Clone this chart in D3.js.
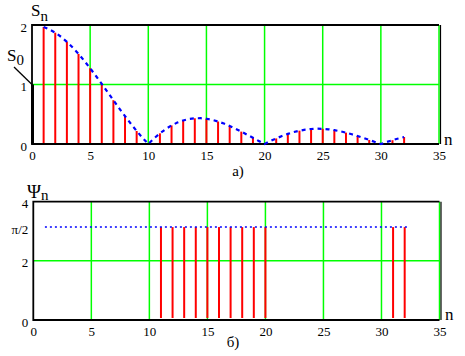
<!DOCTYPE html>
<html><head><meta charset="utf-8">
<script src="https://cdn.jsdelivr.net/npm/d3@7"></script>
<style>
body{margin:0;background:#fff;}
svg{display:block;}
</style></head>
<body><svg id="c" width="465" height="356"></svg>
<script>
// ---- data ----
const xTicks = [0,5,10,15,20,25,30,35];
const sTicks = [0,1,2];
const s0Value = 1;
const stemN = [1,2,3,4,5,6,7,8,9,10,11,12,13,14,15,16,17,18,19,20,21,22,23,24,25,26,27,28,29,30,31,32];
const stemS = [1.967,1.871,1.717,1.514,1.273,1.009,0.736,0.468,0.219,0,0.179,0.312,0.396,0.432,0.424,0.378,0.303,0.208,0.104,0,0.094,0.170,0.224,0.252,0.255,0.233,0.191,0.134,0.068,0,0.064,0.117];
const curveN = [1,1.5,2,2.5,3,3.5,4,4.5,5,5.5,6,6.5,7,7.5,8,8.5,9,9.5,10,10.5,11,11.5,12,12.5,13,13.5,14,14.5,15,15.5,16,16.5,17,17.5,18,18.5,19,19.5,20,20.5,21,21.5,22,22.5,23,23.5,24,24.5,25,25.5,26,26.5,27,27.5,28,28.5,29,29.5,30,30.5,31,31.5,32];
const curveS = [1.967,1.927,1.871,1.801,1.717,1.621,1.514,1.397,1.273,1.143,1.009,0.873,0.736,0.600,0.468,0.340,0.219,0.105,0,0.095,0.179,0.251,0.312,0.360,0.396,0.420,0.432,0.434,0.424,0.406,0.378,0.344,0.303,0.257,0.208,0.156,0.104,0.051,0,0.049,0.094,0.134,0.170,0.200,0.224,0.241,0.252,0.257,0.255,0.247,0.233,0.214,0.191,0.164,0.134,0.101,0.068,0.034,0,0.033,0.064,0.092,0.117];
const psiTicks = [0,2,Math.PI,4];
const psiTickLabels = ["0","2","π/2","4"];
const psiN = [11,12,13,14,15,16,17,18,19,20,31,32];
const psiValues = [Math.PI,Math.PI,Math.PI,Math.PI,Math.PI,Math.PI,Math.PI,Math.PI,Math.PI,Math.PI,Math.PI,Math.PI];
const psiLineN = [1,32.2];
const psiLineV = [Math.PI,Math.PI];

const FONT = "'Liberation Serif'";
const svg = d3.select("#c");
const GREEN = "#00ff00", RED = "#ff0000", BLUE = "#0000ff";

function label(g, x, y, size, main, sub, subSize, subDy, anchor) {
  const t = g.append("text").attr("x",x).attr("y",y).style("font-family",FONT)
    .style("font-size",size+"px").attr("fill","#000").attr("text-anchor",anchor||"start").text(main);
  if (sub) t.append("tspan").attr("dy",subDy).style("font-size",subSize+"px").style("font-family",FONT).text(sub);
  return t;
}

function panel(g, x, y, yTicks, yLabels, gridY) {
  const [x0,x1] = x.range(), [yb,yt] = y.range();
  g.selectAll(".gx").data(xTicks.filter(d=>d>0)).join("line")
    .attr("x1",d=>x(d)).attr("x2",d=>x(d)).attr("y1",yb).attr("y2",yt)
    .attr("stroke",GREEN).attr("stroke-width",1.5);
  g.selectAll(".gy").data(gridY).join("line")
    .attr("x1",x0).attr("x2",x1).attr("y1",d=>y(d)).attr("y2",d=>y(d))
    .attr("stroke",GREEN).attr("stroke-width",1.5);
  g.append("path").attr("d",`M${x1},${yt}H${x0}V${yb}H${x1}`)
    .attr("fill","none").attr("stroke","#000").attr("stroke-width",1.8);
  g.append("line").attr("x1",x1+1.5).attr("x2",x1+1.5).attr("y1",yt).attr("y2",yb)
    .attr("stroke","#000").attr("stroke-width",1.2);
  const ax = d3.axisBottom(x).tickValues(xTicks).tickSize(0).tickPadding(0);
  const ga = g.append("g").attr("transform",`translate(0,${yb})`).call(ax);
  ga.select(".domain").remove();
  ga.selectAll("text").attr("dy",null).attr("y",15.5).attr("fill","#000")
    .style("font-size","13px").style("font-family",FONT);
  const ay = d3.axisLeft(y).tickValues(yTicks).tickFormat((d,i)=>yLabels[i]).tickSize(0).tickPadding(0);
  const gy = g.append("g").attr("transform",`translate(${x0-5},0)`).call(ay);
  gy.select(".domain").remove();
  gy.selectAll("text").attr("dy",null).attr("y",6).attr("fill","#000")
    .style("font-size","13px").style("font-family",FONT);
}

// ---- panel a ----
const xa = d3.scaleLinear().domain([0,35]).range([32,439]);
const ya = d3.scaleLinear().domain([0,2]).range([144,25]);
const ga = svg.append("g");
panel(ga, xa, ya, sTicks, sTicks.map(String), [1]);
ga.selectAll(".stem").data(stemN.map((n,i)=>({n,v:stemS[i]})).filter(d=>d.v>0)).join("line")
  .attr("x1",d=>xa(d.n)).attr("x2",d=>xa(d.n)).attr("y1",ya(0)-1).attr("y2",d=>ya(d.v))
  .attr("stroke",RED).attr("stroke-width",2);
ga.append("line").attr("x1",xa(0)+0.5).attr("x2",xa(0)+0.5).attr("y1",ya(0)).attr("y2",ya(s0Value))
  .attr("stroke","#000").attr("stroke-width",3);
ga.append("path").datum(curveN.map((n,i)=>[n,curveS[i]]))
  .attr("d",d3.line().x(d=>xa(d[0])).y(d=>ya(d[1])))
  .attr("fill","none").attr("stroke",BLUE).attr("stroke-width",2.2).attr("stroke-dasharray","4,4");
label(ga, 31, 16, 17, "S", "n", 15, 5);
label(ga, 7, 61, 17, "S", "0", 15, 4);
ga.append("line").attr("x1",14).attr("y1",67).attr("x2",xa(0)).attr("y2",ya(s0Value))
  .attr("stroke","#000").attr("stroke-width",1.3);
label(ga, 444, 145, 17, "n");
label(ga, 238, 176, 15, "a)", null, 0, 0, "middle");

// ---- panel b ----
const xb = d3.scaleLinear().domain([0,35]).range([33.3,439.5]);
const yb = d3.scaleLinear().domain([0,4]).range([320,201.7]);
const gb = svg.append("g");
panel(gb, xb, yb, psiTicks, psiTickLabels, [2]);
gb.selectAll(".stem").data(psiN.map((n,i)=>({n,v:psiValues[i]}))).join("line")
  .attr("x1",d=>xb(d.n)).attr("x2",d=>xb(d.n)).attr("y1",yb(0)-2).attr("y2",d=>yb(d.v))
  .attr("stroke",RED).attr("stroke-width",2);
gb.append("path").datum(psiLineN.map((n,i)=>[n,psiLineV[i]]))
  .attr("d",d3.line().x(d=>xb(d[0])).y(d=>yb(d[1])))
  .attr("fill","none").attr("stroke",BLUE).attr("stroke-width",1.5).attr("stroke-dasharray","2,3");
label(gb, 27, 198, 19, "Ψ", "n", 15, 2);
label(gb, 445, 320, 17, "n");
label(gb, 233, 347, 15, "б)", null, 0, 0, "middle");
</script></body></html>
